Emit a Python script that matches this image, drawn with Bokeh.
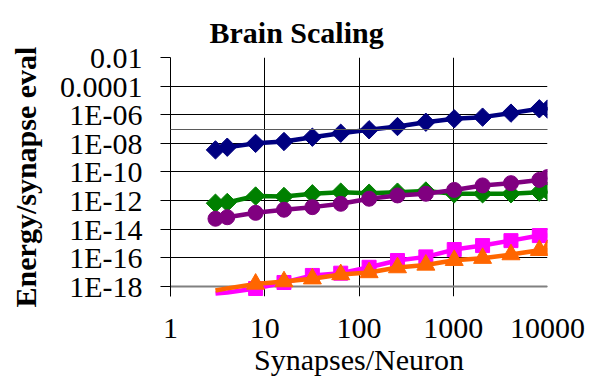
import numpy as np
from bokeh.plotting import figure
from bokeh.models import Range1d, FixedTicker, Span, Title, LogAxis
from bokeh.embed import file_html
from bokeh.resources import INLINE

# Synapses per neuron (x) and energy per synapse evaluation (y) for each technology
synapses = [3, 4, 8, 16, 32, 64, 128, 256, 512, 1024, 2048, 4096, 8192, 10000]

navy_series = [3.5e-9, 5.4e-9, 1.0e-8, 1.35e-8, 2.7e-8, 5.1e-8, 8.9e-8, 1.5e-7,
               3.0e-7, 5.2e-7, 6.8e-7, 1.3e-6, 2.6e-6, 2.5e-6]
green_series = [6.6e-13, 7.4e-13, 2.1e-12, 1.95e-12, 3.0e-12, 3.9e-12, 3.3e-12, 3.9e-12,
                4.7e-12, 3.0e-12, 3.0e-12, 3.0e-12, 3.9e-12, 4.6e-12]
purple_series = [5.4e-14, 6.9e-14, 1.4e-13, 2.3e-13, 3.5e-13, 6.0e-13, 1.35e-12, 2.3e-12,
                 3.0e-12, 5.6e-12, 1.15e-11, 1.66e-11, 2.8e-11, 4.4e-11]
magenta_series = [3.2e-19, 3.8e-19, 7.2e-19, 1.9e-18, 5.9e-18, 8.5e-18, 2.2e-17, 6.5e-17,
                  1.17e-16, 3.8e-16, 7.2e-16, 1.6e-15, 3.6e-15, 3.6e-15]
orange_series = [5.2e-19, 7.4e-19, 1.5e-18, 2.2e-18, 3.5e-18, 6.9e-18, 9.5e-18, 2.1e-17,
                 3.2e-17, 6.8e-17, 9.5e-17, 1.7e-16, 3.4e-16, 3.4e-16]

x_ticks = [1, 10, 100, 1000, 10000]
x_tick_labels = ["1", "10", "100", "1000", "10000"]
y_ticks = [1e-2, 1e-4, 1e-6, 1e-8, 1e-10, 1e-12, 1e-14, 1e-16, 1e-18]
y_tick_labels = ["0.01", "0.0001", "1E-06", "1E-08", "1E-10", "1E-12", "1E-14", "1E-16", "1E-18"]

# level of the thin rule that runs across the full width
rule_level = 10 ** -7.05

FONT = "Liberation Serif"
FS = "30px"

p = figure(
    width=589, height=389,
    frame_width=377, frame_height=239,
    x_axis_type="log", y_axis_type="log",
    x_range=Range1d(1, 10000), y_range=Range1d(10 ** -18.70, 1e-2),
    output_backend="svg", toolbar_location=None,
    min_border_left=170, min_border_right=42, min_border_top=57, min_border_bottom=93,
    background_fill_color="white", border_fill_color="white",
)
p.outline_line_color = None

title = Title(text="Brain Scaling", align="left", offset=39, standoff=18,
              text_font=FONT, text_font_size=FS, text_font_style="bold", text_color="black")
p.add_layout(title, "above")

# x axis
p.xaxis.ticker = FixedTicker(ticks=x_ticks)
p.xaxis.major_label_overrides = dict(zip(x_ticks, x_tick_labels))
p.xaxis.axis_line_color = None
p.xaxis.major_tick_in = 0
p.xaxis.major_tick_out = 0
p.xaxis.minor_tick_line_color = None
p.xaxis.major_label_standoff = 22
p.xaxis.axis_label = "Synapses/Neuron"
p.xaxis.axis_label_standoff = 2
p.xaxis.axis_label_text_font_style = "normal"

# y axis
p.yaxis.ticker = FixedTicker(ticks=y_ticks)
p.yaxis.major_label_overrides = dict(zip(y_ticks, y_tick_labels))
p.yaxis.axis_line_color = "black"
p.yaxis.major_tick_in = 0
p.yaxis.major_tick_out = 10
p.yaxis.major_tick_line_color = "black"
p.yaxis.minor_tick_line_color = None
p.yaxis.major_label_standoff = 18
p.yaxis.axis_label = "Energy/synapse eval"
p.yaxis.axis_label_standoff = 15
p.yaxis.axis_label_text_font_style = "bold"

for ax in (p.xaxis, p.yaxis):
    ax.major_label_text_font = FONT
    ax.major_label_text_font_size = FS
    ax.major_label_text_color = "black"
    ax.axis_label_text_font = FONT
    ax.axis_label_text_font_size = FS
    ax.axis_label_text_color = "black"

# grid
p.xgrid.ticker = FixedTicker(ticks=x_ticks)
p.ygrid.ticker = FixedTicker(ticks=y_ticks)
for g in (p.xgrid, p.ygrid):
    g.grid_line_color = "black"
    g.grid_line_width = 1
    g.grid_line_alpha = 1
    g.level = "underlay"

p.add_layout(Span(location=1e-18, dimension="width", line_color="#808080",
                  line_width=2, level="underlay"))

# full-width rule: a label-less axis pinned at the left edge with one long tick
rule_axis = LogAxis(ticker=FixedTicker(ticks=[rule_level]), fixed_location=1,
                    axis_line_color=None, major_tick_out=170, major_tick_in=419,
                    major_tick_line_color="#5a5a5a", major_tick_line_width=1.2,
                    minor_tick_line_color=None,
                    major_label_overrides={rule_level: ""},
                    major_label_text_color=None)
p.add_layout(rule_axis, "left")

LW = 4.5
xs = np.array(synapses, dtype=float)

# navy diamonds
p.line(xs, navy_series, line_color="#000080", line_width=LW)
p.scatter(xs, navy_series, marker="square", angle=np.pi / 4, size=13,
          fill_color="#000080", line_color="#000080")

# green diamonds
p.line(xs, green_series, line_color="#008000", line_width=LW)
p.scatter(xs, green_series, marker="square", angle=np.pi / 4, size=13,
          fill_color="#008000", line_color="#008000")

# purple circles
p.line(xs, purple_series, line_color="#800080", line_width=LW)
p.scatter(xs, purple_series, marker="circle", size=15,
          fill_color="#800080", line_color="#800080")

# magenta squares (markers from 8 synapses up)
p.line(xs, magenta_series, line_color="#FF00FF", line_width=LW)
p.scatter(xs[2:], magenta_series[2:], marker="square", size=14,
          fill_color="#FF00FF", line_color="#FF00FF")

# orange triangles (markers from 8 synapses up)
p.line(xs, orange_series, line_color="#FF6600", line_width=LW)
p.scatter(xs[2:], orange_series[2:], marker="triangle", size=18,
          fill_color="#FF6600", line_color="#FF6600")

open("out.html", "w").write(file_html(p, INLINE))
